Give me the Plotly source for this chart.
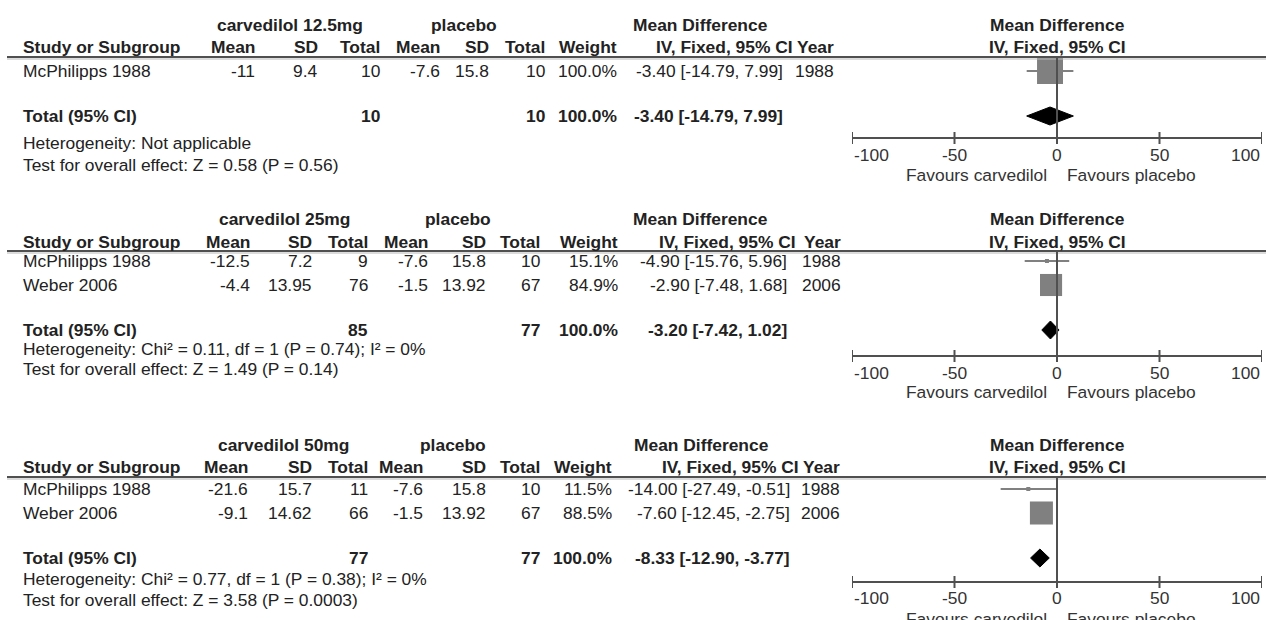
import plotly.graph_objects as go

W, H = 1266, 620

# ---------------- data ----------------
dose_labels = ["carvedilol 12.5mg", "carvedilol 25mg", "carvedilol 50mg"]
study_names = [["McPhilipps 1988"],
               ["McPhilipps 1988", "Weber 2006"],
               ["McPhilipps 1988", "Weber 2006"]]
study_years = [[1988], [1988, 2006], [1988, 2006]]

carv_mean = [[-11], [-12.5, -4.4], [-21.6, -9.1]]
carv_sd = [[9.4], [7.2, 13.95], [15.7, 14.62]]
carv_n = [[10], [9, 76], [11, 66]]

plac_mean = [[-7.6], [-7.6, -1.5], [-7.6, -1.5]]
plac_sd = [[15.8], [15.8, 13.92], [15.8, 13.92]]
plac_n = [[10], [10, 67], [10, 67]]

weight_pct = [[100.0], [15.1, 84.9], [11.5, 88.5]]
md = [[-3.40], [-4.90, -2.90], [-14.00, -7.60]]
md_lo = [[-14.79], [-15.76, -7.48], [-27.49, -12.45]]
md_hi = [[7.99], [5.96, 1.68], [-0.51, -2.75]]

total_carv_n = [10, 85, 77]
total_plac_n = [10, 77, 77]
total_md = [-3.40, -3.20, -8.33]
total_lo = [-14.79, -7.42, -12.90]
total_hi = [7.99, 1.02, -3.77]

heterogeneity = ["Heterogeneity: Not applicable",
                 "Heterogeneity: Chi² = 0.11, df = 1 (P = 0.74); I² = 0%",
                 "Heterogeneity: Chi² = 0.77, df = 1 (P = 0.38); I² = 0%"]
overall_effect = ["Test for overall effect: Z = 0.58 (P = 0.56)",
                  "Test for overall effect: Z = 1.49 (P = 0.14)",
                  "Test for overall effect: Z = 3.58 (P = 0.0003)"]

axis_ticks = [-100, -50, 0, 50, 100]
favours_left = "Favours carvedilol"
favours_right = "Favours placebo"

# ---------------- layout (pixel positions) ----------------
panels = [
    dict(group=25, head=47, rule=57, rows=[71], total=116, het=143, test=165,
         axis=138, ticklab=155, fav=175,
         cols=[257, 320, 382, 442, 491, 547, 619, 785, 836],
         carv_c=290, plac_c=464, md_c=700, iv_r=795),
    dict(group=219, head=242, rule=251, rows=[261, 285], total=330, het=349, test=369,
         axis=356, ticklab=373, fav=392,
         cols=[252, 314, 370, 430, 488, 542, 620, 789, 843],
         carv_c=284, plac_c=458, md_c=700, iv_r=798),
    dict(group=445, head=467, rule=477, rows=[489, 513], total=558, het=579, test=600,
         axis=582, ticklab=598, fav=619,
         cols=[250, 314, 370, 425, 488, 542, 614, 792, 842],
         carv_c=283, plac_c=453, md_c=701, iv_r=801),
]

FONT = "Liberation Sans, Arial, sans-serif"
FS = 17.4
TXT = "#222222"
LINE = "#505050"
GREY = "#808080"
STUDY_X = 21
RULE_X0 = 7
PLOT_L, PLOT_R = 852, 1262

fig = go.Figure()
annotations = []
shapes = []


def label(x, y, text, anchor="left", bold=False, xref="paper"):
    xx = x / W if xref == "paper" else x
    annotations.append(dict(
        x=xx, y=y, xref=xref, yref="y", text=f"<b>{text}</b>" if bold else text,
        showarrow=False, xanchor=anchor, yanchor="middle",
        font=dict(family=FONT, size=FS, color=TXT), align=anchor))


def ci_text(m, lo, hi):
    return f"{m:.2f} [{lo:.2f}, {hi:.2f}]"


for k, p in enumerate(panels):
    c = p["cols"]
    # group headers
    label(p["carv_c"], p["group"], dose_labels[k], "center", True)
    label(p["plac_c"], p["group"], "placebo", "center", True)
    label(p["md_c"], p["group"], "Mean Difference", "center", True)
    # column headers
    label(STUDY_X, p["head"], "Study or Subgroup", "left", True)
    for x, t in zip(c[:7], ["Mean", "SD", "Total", "Mean", "SD", "Total", "Weight"]):
        label(x, p["head"], t, "right", True)
    label(p["iv_r"], p["head"], "IV, Fixed, 95% CI", "right", True)
    label(c[8], p["head"], "Year", "right", True)
    # forest header
    label(0, p["group"], "Mean Difference", "center", True, xref="x")
    label(0, p["head"], "IV, Fixed, 95% CI", "center", True, xref="x")

    # header rule (double tone)
    shapes.append(dict(type="line", xref="paper", yref="y", x0=RULE_X0 / W, x1=1,
                       y0=p["rule"], y1=p["rule"], line=dict(color=LINE, width=2)))
    shapes.append(dict(type="line", xref="paper", yref="y", x0=RULE_X0 / W, x1=1,
                       y0=p["rule"] + 2, y1=p["rule"] + 2, line=dict(color="#b8b8b8", width=1)))

    # study rows
    for i, name in enumerate(study_names[k]):
        y = p["rows"][i]
        label(STUDY_X, y, name)
        vals = [carv_mean[k][i], carv_sd[k][i], carv_n[k][i],
                plac_mean[k][i], plac_sd[k][i], plac_n[k][i]]
        for x, v in zip(c[:6], vals):
            label(x, y, str(v), "right")
        label(c[6], y, f"{weight_pct[k][i]:.1f}%", "right")
        label(c[7], y, ci_text(md[k][i], md_lo[k][i], md_hi[k][i]), "right")
        label(c[8], y, str(study_years[k][i]), "right")

        # whisker and weighted square
        fig.add_trace(go.Scatter(x=[md_lo[k][i], md_hi[k][i]], y=[y, y], mode="lines",
                                 line=dict(color=GREY, width=2), hoverinfo="skip"))
        side = max(26 * weight_pct[k][i] / 100, 4)
        fig.add_trace(go.Scatter(x=[md[k][i]], y=[y], mode="markers",
                                 marker=dict(symbol="square", size=side, color=GREY,
                                             line=dict(width=0)),
                                 hoverinfo="skip"))

    # total row
    yt = p["total"]
    label(STUDY_X, yt, "Total (95% CI)", "left", True)
    label(c[2], yt, str(total_carv_n[k]), "right", True)
    label(c[5], yt, str(total_plac_n[k]), "right", True)
    label(c[6], yt, "100.0%", "right", True)
    label(c[7], yt, ci_text(total_md[k], total_lo[k], total_hi[k]), "right", True)
    label(STUDY_X, p["het"], heterogeneity[k])
    label(STUDY_X, p["test"], overall_effect[k])

    # pooled diamond
    fig.add_trace(go.Scatter(
        x=[total_lo[k], total_md[k], total_hi[k], total_md[k], total_lo[k]],
        y=[yt, yt - 9, yt, yt + 9, yt], mode="lines", fill="toself",
        fillcolor="black", line=dict(color="black", width=1), hoverinfo="skip"))

    # zero line
    shapes.append(dict(type="line", xref="x", yref="y", x0=0, x1=0,
                       y0=p["rule"], y1=p["axis"], line=dict(color=LINE, width=2)))
    # axis with ticks crossing the line
    shapes.append(dict(type="line", xref="x", yref="y", x0=axis_ticks[0], x1=axis_ticks[-1],
                       y0=p["axis"], y1=p["axis"], line=dict(color=LINE, width=2)))
    for t in axis_ticks:
        shapes.append(dict(type="line", xref="x", yref="y", x0=t, x1=t,
                           y0=p["axis"] - 6, y1=p["axis"] + 6, line=dict(color=LINE, width=2)))
        anchor = "left" if t == axis_ticks[0] else ("right" if t == axis_ticks[-1] else "center")
        annotations.append(dict(x=t, y=p["ticklab"], xref="x", yref="y", text=str(t),
                                showarrow=False, xanchor=anchor, yanchor="middle",
                                font=dict(family=FONT, size=FS, color="#333333")))
    annotations.append(dict(x=-4, y=p["fav"], xref="x", yref="y", text=favours_left,
                            showarrow=False, xanchor="right", yanchor="middle",
                            font=dict(family=FONT, size=FS, color="#333333")))
    annotations.append(dict(x=4, y=p["fav"], xref="x", yref="y", text=favours_right,
                            showarrow=False, xanchor="left", yanchor="middle",
                            font=dict(family=FONT, size=FS, color="#333333")))

fig.update_layout(
    width=W, height=H, margin=dict(l=0, r=0, t=0, b=0),
    paper_bgcolor="white", plot_bgcolor="white", showlegend=False,
    xaxis=dict(domain=[PLOT_L / W, PLOT_R / W], range=[-100, 100], visible=False,
               fixedrange=True),
    yaxis=dict(domain=[0, 1], range=[H, 0], visible=False, fixedrange=True),
    annotations=annotations, shapes=shapes,
)
for tr in fig.data:
    tr.cliponaxis = False

fig.write_html("out.html", config={"displayModeBar": False})
